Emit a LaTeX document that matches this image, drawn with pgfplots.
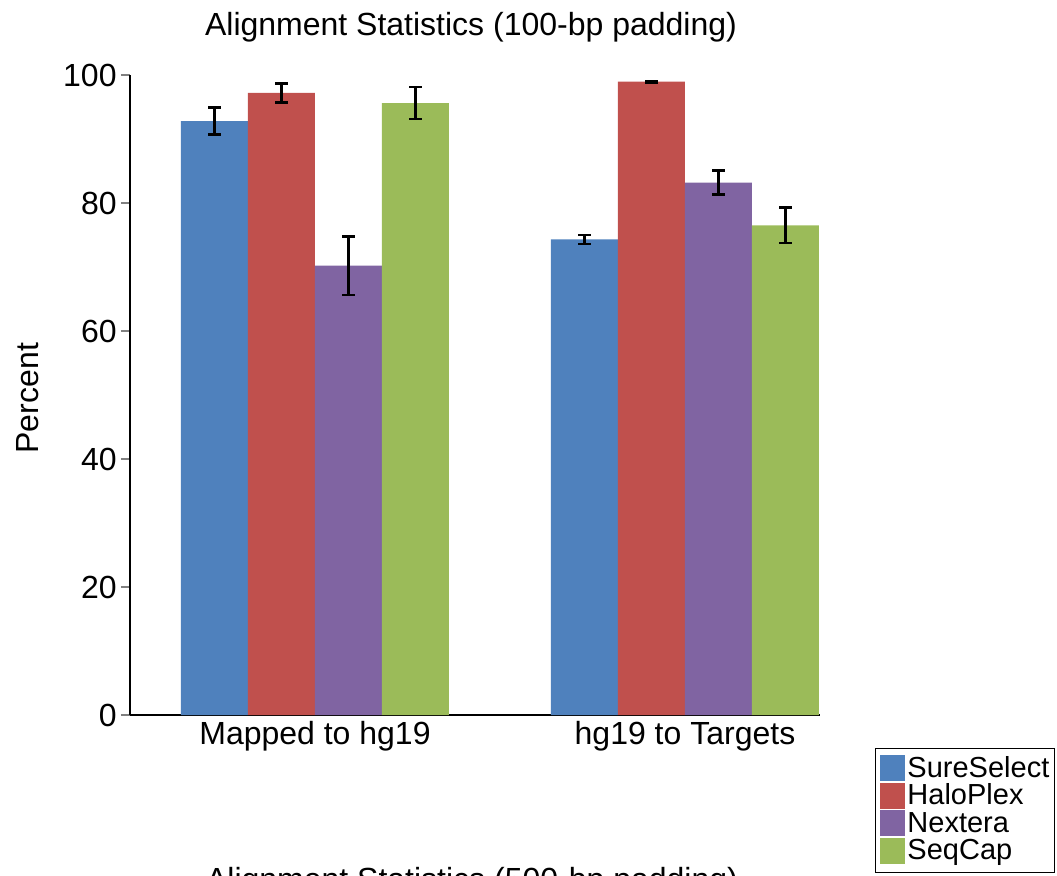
\documentclass[border=0pt]{standalone}
\usepackage{pgfplots}
\pgfplotsset{compat=1.18}
\usepackage{fontspec}
\setmainfont{Liberation Sans}

\definecolor{cSure}{HTML}{4F81BD}
\definecolor{cHalo}{HTML}{C0504D}
\definecolor{cNext}{HTML}{8064A2}
\definecolor{cSeq}{HTML}{9BBB59}

\begin{document}
\begin{tikzpicture}
\path[use as bounding box] (0,0) rectangle (528.5pt,437.5pt);
\begin{axis}[
    at={(65pt,80pt)}, anchor=south west,
    width=345pt, height=320pt, scale only axis,
    ybar=0pt, bar width=33.5pt,
    xmin=-0.5, xmax=1.3649,
    ymin=0, ymax=100,
    axis lines*=left,
    axis line style={line width=1.3pt, -},
    xtick={0,1},
    xticklabels={Mapped to hg19, hg19 to Targets},
    xtick style={draw=none},
    ytick={0,20,...,100},
    ytick style={line width=1.3pt},
    tick align=outside,
    major tick length=4.5pt,
    /pgf/number format/assume math mode=true,
    tick label style={font=\fontsize{16}{16}\selectfont},
    xticklabel style={inner sep=0pt, yshift=1.5pt},
    yticklabel style={inner sep=2pt},
    ylabel={Percent},
    ylabel style={font=\fontsize{16}{16}\selectfont, at={(axis description cs:-0.1478,0.495)}, anchor=center},
    legend image code/.code={\fill[#1] (0pt,-2pt) rectangle (12.5pt,11pt);},
    legend style={at={(axis description cs:1.0797,-0.0508)}, anchor=north west,
        draw=black, line width=0.5pt, inner xsep=2.5pt, inner ysep=3.5pt, row sep=0pt, column sep=1pt,
        font=\fontsize{14.5}{14.5}\selectfont,
        nodes={inner sep=0pt, outer sep=0pt, text height=11pt, text depth=2.75pt},
        cells={anchor=base west}},
    error bars/y dir=both, error bars/y explicit,
    error bars/error bar style={line width=1.3pt, black},
    error bars/error mark options={line width=1.3pt, black, mark size=3.2pt, rotate=90},
]
\addplot[fill=cSure, draw=none] coordinates {(0,92.8) +- (0,2.1) (1,74.3) +- (0,0.7)};
\addplot[fill=cHalo, draw=none] coordinates {(0,97.2) +- (0,1.5) (1,98.95) +- (0,0.1)};
\addplot[fill=cNext, draw=none] coordinates {(0,70.2) +- (0,4.6) (1,83.2) +- (0,1.9)};
\addplot[fill=cSeq, draw=none] coordinates {(0,95.6) +- (0,2.5) (1,76.5) +- (0,2.75)};
\legend{SureSelect, HaloPlex, Nextera, SeqCap}
\end{axis}
\node[anchor=base, font=\fontsize{16}{16}\selectfont] at (235.5pt,419.5pt) {Alignment Statistics (100-bp padding)};
\node[anchor=base, font=\fontsize{16}{16}\selectfont] at (236pt,-7.5pt) {Alignment Statistics (500-bp padding)};
\end{tikzpicture}
\end{document}
